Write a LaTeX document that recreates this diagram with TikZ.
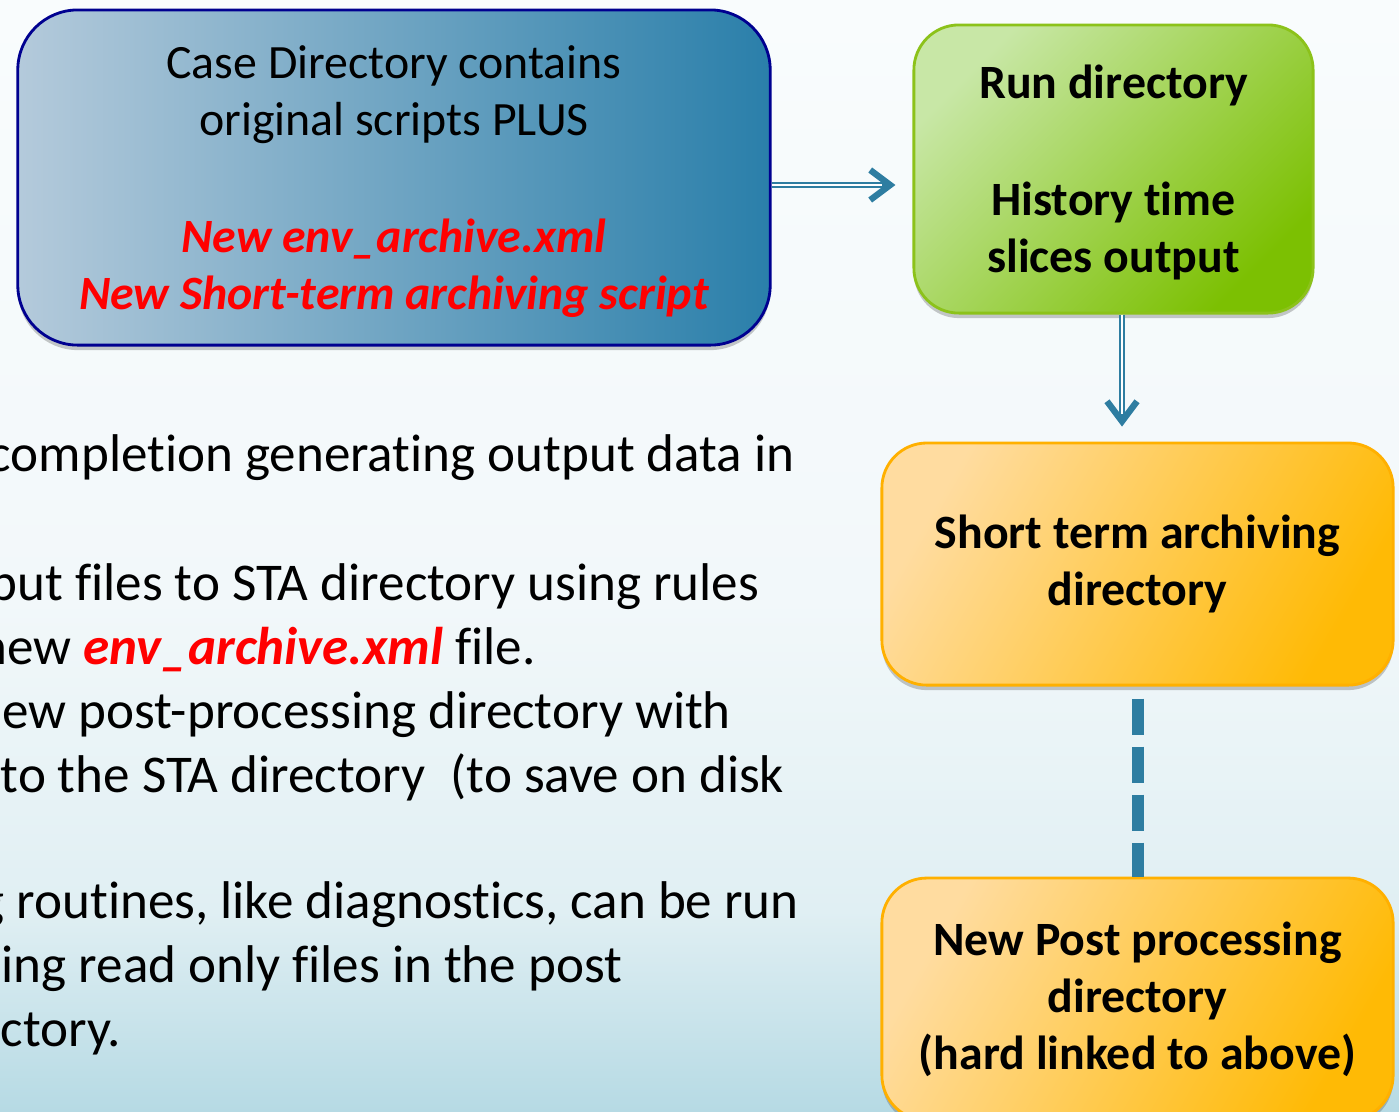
\documentclass[tikz,border=0pt]{standalone}
\usepackage{fontspec}
\setmainfont{Carlito}[Ligatures=NoCommon]
\usetikzlibrary{positioning,calc,arrows.meta,shadows}
\usepackage{xcolor}

\definecolor{linkblue}{HTML}{2E7DA1}
\definecolor{caseleft}{HTML}{B4CADB}
\definecolor{caseright}{HTML}{2A7FAA}
\definecolor{caseline}{HTML}{000090}
\definecolor{runleft}{HTML}{C8E7A6}
\definecolor{runright}{HTML}{7CC002}
\definecolor{runline}{HTML}{8CC21A}
\definecolor{staleft}{HTML}{FFDCA0}
\definecolor{staright}{HTML}{FFBA05}
\definecolor{staline}{HTML}{FFB000}
\definecolor{bgtop}{HTML}{F9FCFD}
\definecolor{bglight}{HTML}{F2F8FA}
\definecolor{bgmid}{HTML}{E0EFF3}
\definecolor{bgbottom}{HTML}{B6DAE4}
\pgfdeclareverticalshading{slidebg}{100bp}{color(0bp)=(bgbottom); color(25bp)=(bgbottom); color(34bp)=(bgmid); color(48bp)=(bglight); color(75bp)=(bgtop); color(100bp)=(bgtop)}

\begin{document}
\begin{tikzpicture}[
    x=0.01cm, y=-0.01cm,
    box/.style={draw, line width=0.8pt, rounded corners=0.45cm, align=center, inner sep=0pt,
        font=\fontsize{13.6}{16.2}\selectfont,
        drop shadow={shadow xshift=0cm, shadow yshift=-0.05cm, opacity=0.3, fill=black!70}},
    arrow/.style={draw=linkblue, line width=1.6pt, -{Straight Barb[length=0.2cm, width=0.3cm, line width=1.8pt]}},
    arrowcore/.style={draw=white, line width=0.5pt},
    dashlink/.style={draw=linkblue, line width=0.12cm, dash pattern=on 0.36cm off 0.12cm, dash phase=0.36cm},
    body/.style={anchor=base west, inner sep=0pt, font=\fontsize{15.1}{18}\selectfont}
]
\useasboundingbox (0,0) rectangle (1399,1111);
\clip (0,0) rectangle (1399,1111);
\shade[shading=slidebg] (0,0) rectangle (1399,1111);

% boxes
\node[box, rounded corners=0.6cm, draw=caseline, left color=caseleft, right color=caseright,
    minimum width=7.52cm, minimum height=3.35cm] (case) at (394,177.5)
    {\rule{0pt}{0.12cm}\\[-8pt] Case Directory contains\\ original scripts PLUS\\[17pt]
     {\color{red}\bfseries\itshape New env\_archive.xml}\\
     {\color{red}\bfseries\itshape New Short-term archiving script}};
\node[box, draw=runline, left color=runleft, right color=runright, shading angle=45,
    minimum width=3.99cm, minimum height=2.88cm, font=\fontsize{13.6}{16.2}\selectfont\bfseries] (run) at (1113.5,169)
    {\rule{0pt}{0.12cm}\\[-8pt] Run directory\\[17pt] History time\\ slices output};
\node[box, draw=staline, left color=staleft, right color=staright, shading angle=60,
    minimum width=5.11cm, minimum height=2.42cm, font=\fontsize{13.6}{16.2}\selectfont\bfseries,
    below=1.27cm of run, xshift=0.24cm] (sta)
    {Short term archiving\\ directory};
\node[box, draw=staline, left color=staleft, right color=staright, shading angle=60,
    minimum width=5.11cm, minimum height=2.42cm, font=\fontsize{13.6}{16.2}\selectfont\bfseries,
    below=1.9cm of sta] (post)
    {New Post processing\\ directory\\ (hard linked to above)};

% connectors
\draw[arrow, shorten >=0.17cm] ([yshift=-0.075cm]case.east) -- ([yshift=-0.075cm]case.east -| run.west);
\draw[arrowcore, shorten >=0.3cm] ([yshift=-0.075cm]case.east) -- ([yshift=-0.075cm]case.east -| run.west);
\draw[arrow, shorten >=0.15cm] ([xshift=0.085cm]run.south) -- ([xshift=0.085cm]run.south |- sta.north);
\draw[arrowcore, shorten >=0.28cm] ([xshift=0.085cm]run.south) -- ([xshift=0.085cm]run.south |- sta.north);
\draw[dashlink] (sta.south) -- (post.north);

% body text, cut at the left edge
\node[body] (l1) at (-12,471) {completion generating output data in};
\node[body] (l2) at (-11,600) {put files to STA directory using rules};
\node[body] (l3) at (-21,664) {new {\color{red}\bfseries\itshape env\_archive.xml} file.};
\node[body] (l4) at (-26,728) {new post-processing directory with};
\node[body] (l5) at (0,792) {to the STA directory\hspace{0.25em} (to save on disk};
\node[body] (l6) at (-21,918) {g routines, like diagnostics, can be run};
\node[body] (l7) at (1,982) {ing read only files in the post};
\node[body] (l8) at (0,1046) {ctory.};
\end{tikzpicture}
\end{document}
